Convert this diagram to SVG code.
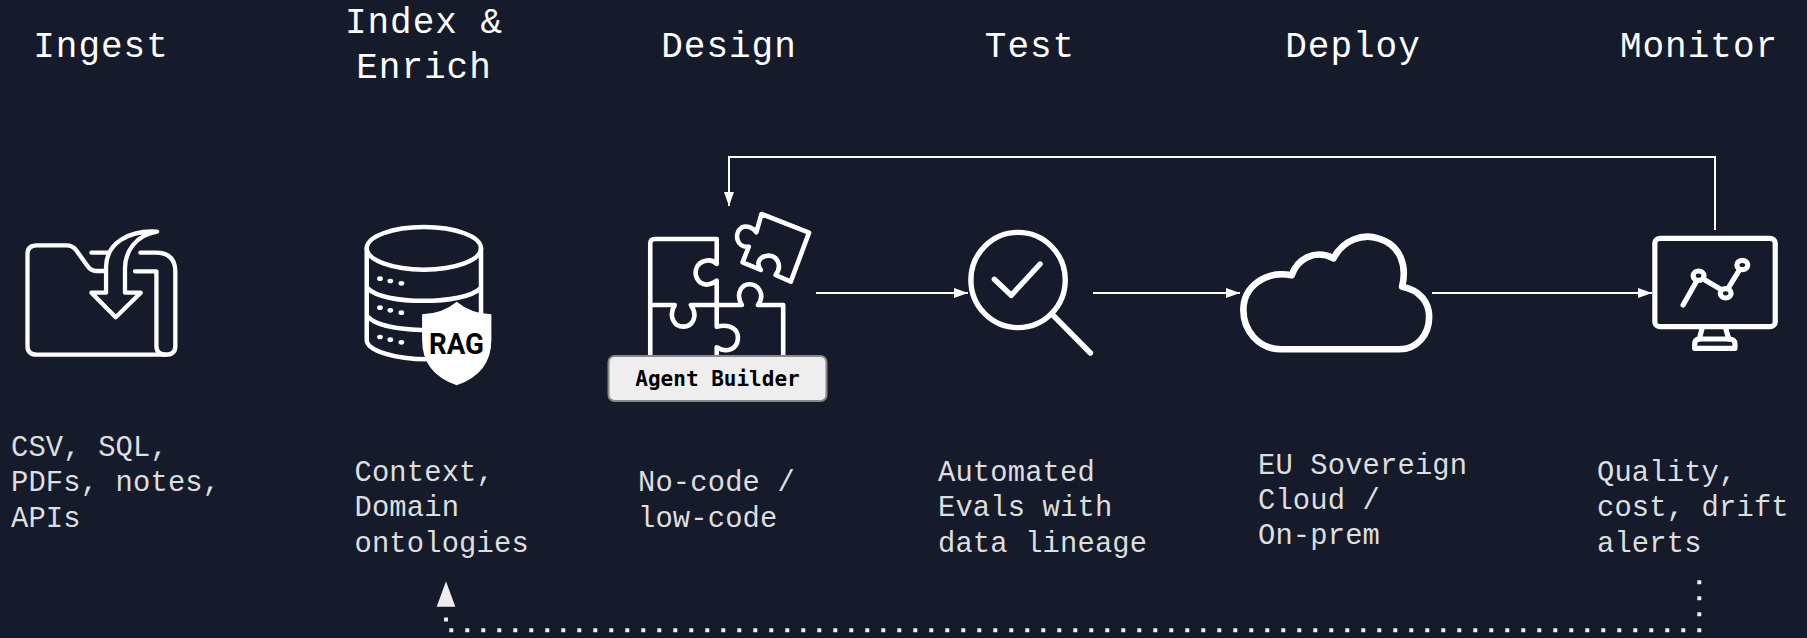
<svg xmlns="http://www.w3.org/2000/svg" width="1807" height="638" viewBox="0 0 1807 638">
<style>
.title{font-family:"Liberation Mono",monospace;font-size:36px;letter-spacing:1px;fill:#fff;text-anchor:middle}
.body{font-family:"Liberation Mono",monospace;font-size:28.8px;letter-spacing:.15px;fill:#dedede}
.ic{fill:none;stroke:#fff;stroke-linecap:round;stroke-linejoin:round}
.ic *{vector-effect:non-scaling-stroke}
.conn{fill:none;stroke:#fff;stroke-width:2}
</style>
<defs>
<marker id="ah" markerUnits="userSpaceOnUse" markerWidth="14" markerHeight="10" refX="14" refY="5" orient="auto"><path d="M0,0L14,5L0,10Z" fill="#fff"/></marker>
</defs>
<rect width="1807" height="638" fill="#151b2b"/>
<g id="connectors">
<path class="conn" d="M816,293H968" marker-end="url(#ah)"/>
<path class="conn" d="M1093,293H1240" marker-end="url(#ah)"/>
<path class="conn" d="M1432,293H1652" marker-end="url(#ah)"/>
<path class="conn" d="M1715,230V157H729V206" marker-end="url(#ah)"/>
<path d="M1699.3,580.3V630.3H446V607" fill="none" stroke="#eee" stroke-width="4" stroke-dasharray="4 12"/>
<path d="M446,581.3L455.3,606.7H436.7Z" fill="#eee"/>
</g>
<g id="ingest">
<text class="title" x="101" y="56.5">Ingest</text>
<g class="ic" stroke-width="4.3" transform="translate(0,200) scale(.3571,.3333)">
<path d="M295,213H270Q255,213 245,198L213,150Q203,136 187,136H103Q77,136 77,162V438Q77,464 103,464H465Q491,464 491,438V215Q491,158 435,158H393"/>
<path d="M378,214H438V438Q438,464 465,464"/>
<path d="M256,158H300"/>
<path d="M440,95C360,90 298,130 297,200V278H256L324,352L394,278H350V205C350,155 380,105 440,95Z" fill="#151b2b"/>
</g>
<text class="body"><tspan x="11" y="456">CSV, SQL,</tspan><tspan x="11" y="491">PDFs, notes,</tspan><tspan x="11" y="527">APIs</tspan></text>
</g>
<g id="index">
<text class="title" x="424" y="32.5">Index &amp;</text>
<text class="title" x="424" y="77.5">Enrich</text>
<g class="ic" stroke-width="4.5" transform="translate(0,200) scale(.3571,.3333)">
<ellipse cx="1187" cy="145" rx="160" ry="64"/>
<path d="M1027,145V420C1027,450 1100,478 1200,478"/>
<path d="M1347,145V340"/>
<path d="M1030,265C1070,315 1300,315 1345,265"/>
<path d="M1030,350C1050,375 1110,388 1180,390"/>
</g>
<g fill="#fff" transform="translate(0,200) scale(.3571,.3333)">
<ellipse cx="1064" cy="236" rx="8" ry="7"/><ellipse cx="1093" cy="243" rx="8" ry="7"/><ellipse cx="1124" cy="250" rx="8" ry="7"/>
<ellipse cx="1064" cy="323" rx="8" ry="7"/><ellipse cx="1093" cy="331" rx="8" ry="7"/><ellipse cx="1124" cy="338" rx="8" ry="7"/>
<ellipse cx="1064" cy="411" rx="8" ry="7"/><ellipse cx="1093" cy="419" rx="8" ry="7"/><ellipse cx="1124" cy="427" rx="8" ry="7"/>
<path d="M1279,305Q1240,340 1182,343V420Q1182,520 1279,556Q1376,520 1376,420V343Q1318,340 1279,305Z"/>
</g>
<text x="429" y="353.5" font-family="Roboto,sans-serif" font-weight="700" font-size="30" fill="#000" textLength="55" lengthAdjust="spacingAndGlyphs">RAG</text>
<text class="body"><tspan x="354.5" y="481">Context,</tspan><tspan x="354.5" y="516">Domain</tspan><tspan x="354.5" y="552">ontologies</tspan></text>
</g>
<g id="design">
<text class="title" x="729" y="56.5">Design</text>
<g class="ic" stroke-width="4.6" transform="translate(580,190) scale(.3444,.3333)">
<path d="M204,495V160Q204,147 217,147H397V222Q385,208 365,212C335,218 325,255 350,278Q370,292 397,272V410C440,400 462,420 458,450C455,478 425,490 397,472V495"/>
<path d="M204,345H275C255,380 275,410 300,410C325,410 345,380 322,345H470C450,310 470,283 492,283C515,283 540,310 517,345H590V495"/>
<path d="M527,72L665,128L612,275L568,255C590,225 570,195 545,197C520,200 510,220 525,240L472,217L490,170C455,175 445,130 470,112C485,105 505,115 512,127Z"/>
</g>
<rect x="608.5" y="356" width="218" height="45" rx="6" fill="#eee" stroke="#888" stroke-width="2"/>
<text x="717.5" y="386" font-family="'DejaVu Sans Mono',monospace" font-weight="700" font-size="21" fill="#000" text-anchor="middle">Agent Builder</text>
<text class="body"><tspan x="638" y="491">No-code /</tspan><tspan x="638" y="527">low-code</tspan></text>
</g>
<g id="test">
<text class="title" x="1030" y="56.5">Test</text>
<g class="ic" stroke-width="5.4" transform="translate(580,190) scale(.3444,.3333)">
<ellipse cx="1272" cy="270" rx="137" ry="143"/>
<path d="M1370,372L1482,489"/>
<path d="M1203,268L1252,316L1336,222"/>
</g>
<text class="body"><tspan x="938" y="481">Automated</tspan><tspan x="938" y="516">Evals with</tspan><tspan x="938" y="552">data lineage</tspan></text>
</g>
<g id="deploy">
<text class="title" x="1353" y="56.5">Deploy</text>
<g class="ic" stroke-width="6.6" transform="translate(1200,140) scale(.3871,.3333)">
<path d="M515,628H210C150,628 112,570 112,510C112,440 170,390 237,406C250,360 295,325 345,355C370,300 420,280 460,295C520,315 535,380 522,440C570,450 592,490 592,530C592,585 560,628 515,628Z"/>
</g>
<text class="body"><tspan x="1258" y="474">EU Sovereign</tspan><tspan x="1258" y="509">Cloud /</tspan><tspan x="1258" y="544">On-prem</tspan></text>
</g>
<g id="monitor">
<text class="title" x="1699" y="56.5">Monitor</text>
<g class="ic" stroke-width="5.2" transform="translate(1200,140) scale(.3871,.3333)">
<rect x="1175" y="295" width="311" height="265" rx="14" ry="14"/>
<path d="M1297,565L1290,597M1358,565L1366,597"/>
<path d="M1290,597H1366Q1382,597 1382,612V625H1278V612Q1278,597 1290,597Z"/>
<path d="M1248,495L1282,425M1300,417L1345,448M1367,440L1392,393"/>
<ellipse cx="1288" cy="407" rx="14" ry="14"/><ellipse cx="1358" cy="460" rx="14" ry="14"/><ellipse cx="1401" cy="375" rx="14" ry="14"/>
</g>
<text class="body"><tspan x="1597" y="481">Quality,</tspan><tspan x="1597" y="516">cost, drift</tspan><tspan x="1597" y="552">alerts</tspan></text>
</g>
</svg>
